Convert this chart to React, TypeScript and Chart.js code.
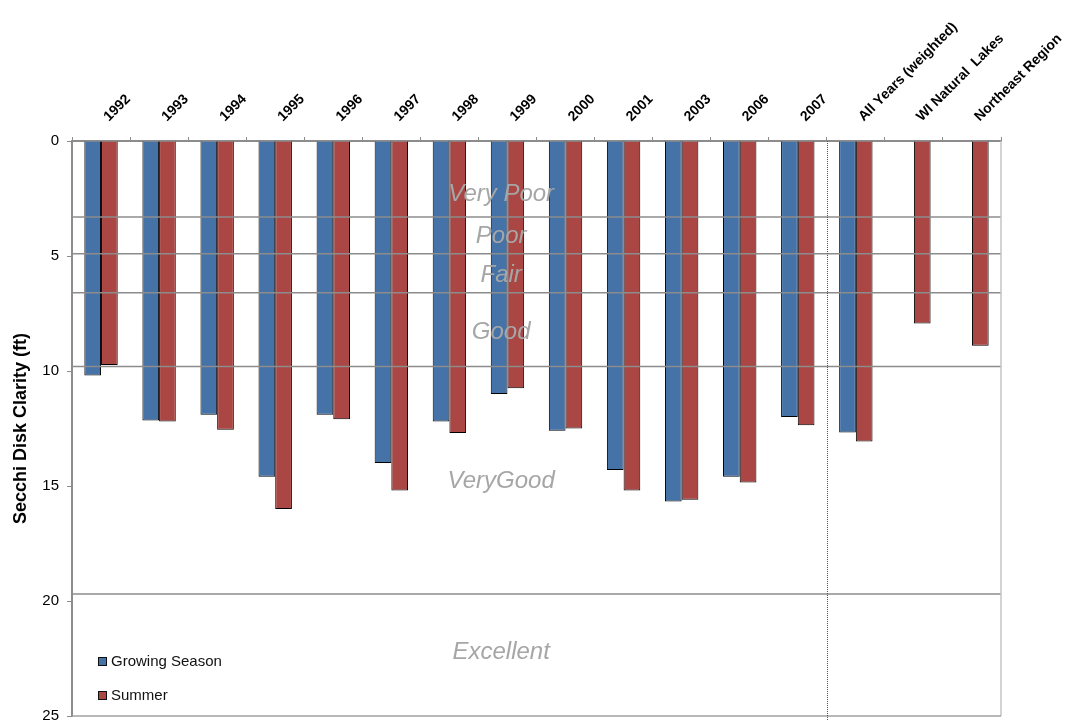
import React, { useEffect, useRef } from "react";
import { Chart, registerables } from "chart.js";

Chart.register(...registerables);

const categories = [
  "1992", "1993", "1994", "1995", "1996", "1997", "1998", "1999", "2000",
  "2001", "2003", "2006", "2007", "All Years (weighted)", "WI Natural  Lakes", "Northeast Region",
];
const growingSeason = [10.2, 12.15, 11.9, 14.6, 11.9, 14.0, 12.2, 11.0, 12.6, 14.3, 15.67, 14.6, 12.0, 12.67, null, null];
const summer = [9.74, 12.2, 12.55, 16.0, 12.1, 15.2, 12.7, 10.75, 12.5, 15.2, 15.6, 14.85, 12.36, 13.07, 7.93, 8.9];

const yTicks = [0, 5, 10, 15, 20, 25];
const thresholds = [3.3, 4.9, 6.6, 9.8, 19.7];
const zoneLabels = ["Very Poor", "Poor", "Fair", "Good", "VeryGood", "Excellent"];
const zoneLabelValues = [2.3, 4.15, 5.85, 8.3, 14.8, 22.25];
const legendLabels = ["Growing Season", "Summer"];
const colors = ["#4572A7", "#AA4643"];

const FONT = "'Liberation Sans', Arial, sans-serif";

const overlayPlugin = {
  id: "overlay",
  afterDatasetsDraw(chart: any) {
    const { ctx, chartArea } = chart;
    const y = chart.scales.y;
    const x = chart.scales.x;
    ctx.save();
    // threshold lines
    ctx.strokeStyle = "#8c8c8c";
    ctx.lineWidth = 1.5;
    thresholds.forEach((t) => {
      const py = y.getPixelForValue(t);
      ctx.beginPath();
      ctx.moveTo(chartArea.left, py);
      ctx.lineTo(chartArea.right, py);
      ctx.stroke();
    });
    // right and bottom borders
    ctx.strokeStyle = "#c4c4c4";
    ctx.lineWidth = 1.5;
    ctx.beginPath();
    ctx.moveTo(chartArea.right, chartArea.top);
    ctx.lineTo(chartArea.right, chartArea.bottom);
    ctx.stroke();
    ctx.strokeStyle = "#a0a0a0";
    ctx.beginPath();
    ctx.moveTo(chartArea.left, chartArea.bottom);
    ctx.lineTo(chartArea.right, chartArea.bottom);
    ctx.stroke();
    // dotted separator
    const sx = Math.round((x.getPixelForValue(12) + x.getPixelForValue(13)) / 2) + 0.5;
    ctx.strokeStyle = "#555";
    ctx.lineWidth = 1;
    ctx.setLineDash([1, 1]);
    ctx.beginPath();
    ctx.moveTo(sx, chartArea.top);
    ctx.lineTo(sx, chart.height);
    ctx.stroke();
    ctx.setLineDash([]);
    // zone labels
    ctx.fillStyle = "#a6a6a6";
    ctx.font = `italic 24px ${FONT}`;
    ctx.textAlign = "center";
    ctx.textBaseline = "middle";
    const cx = chartArea.left + 0.462 * (chartArea.right - chartArea.left);
    zoneLabels.forEach((l, i) => {
      ctx.fillText(l, cx, y.getPixelForValue(zoneLabelValues[i]));
    });
    // legend
    ctx.font = `15px ${FONT}`;
    ctx.textAlign = "left";
    legendLabels.forEach((l, i) => {
      const ly = chartArea.bottom - 55 + i * 34;
      const lx = chartArea.left + 26;
      ctx.fillStyle = colors[i];
      ctx.fillRect(lx, ly - 4, 8, 8);
      ctx.strokeStyle = "#111";
      ctx.lineWidth = 1;
      ctx.strokeRect(lx + 0.5, ly - 4 + 0.5, 8, 8);
      ctx.fillStyle = "#111";
      ctx.fillText(l, lx + 13, ly + 1);
    });
    ctx.restore();
  },
};

export default function App() {
  const ref = useRef<HTMLCanvasElement>(null);
  useEffect(() => {
    if (!ref.current) return;
    Chart.defaults.font.family = FONT;
    const chart = new Chart(ref.current, {
      type: "bar",
      data: {
        labels: categories,
        datasets: [
          {
            label: legendLabels[0],
            data: growingSeason,
            backgroundColor: colors[0],
            borderColor: "#000",
            borderWidth: 1,
            categoryPercentage: 0.575,
            barPercentage: 1,
          },
          {
            label: legendLabels[1],
            data: summer,
            backgroundColor: colors[1],
            borderColor: "#000",
            borderWidth: 1,
            categoryPercentage: 0.575,
            barPercentage: 1,
          },
        ],
      },
      options: {
        responsive: false,
        animation: false,
        layout: { padding: { top: 0, left: 0, right: 69, bottom: 5 } },
        plugins: { legend: { display: false }, tooltip: { enabled: false } },
        scales: {
          x: {
            position: "top",
            grid: { drawOnChartArea: false, tickLength: 4, color: "#8c8c8c", offset: true },
            border: { color: "#8c8c8c", width: 2 },
            ticks: {
              autoSkip: false,
              minRotation: 45,
              maxRotation: 45,
              padding: 12,
              labelOffset: 17,
              color: "#000",
              font: { size: 14, weight: "bold", family: FONT },
            },
            afterFit: (s: any) => {
              s.height = 141;
              s.paddingLeft = 0;
              s.paddingRight = 0;
            },
          },
          y: {
            reverse: true,
            min: 0,
            max: 25,
            afterBuildTicks: (s: any) => {
              s.ticks = yTicks.map((v) => ({ value: v }));
            },
            grid: { drawOnChartArea: false, tickLength: 5, color: "#8c8c8c" },
            border: { color: "#8c8c8c", width: 2 },
            ticks: { padding: 8, color: "#000", font: { size: 15, family: FONT } },
            title: {
              display: true,
              text: "Secchi Disk Clarity (ft)",
              color: "#000",
              font: { size: 18, weight: "bold", family: FONT },
              padding: { top: 10, bottom: 0 },
            },
            afterFit: (s: any) => {
              s.width = 72;
              s.paddingTop = 0;
              s.paddingBottom = 0;
            },
          },
        },
      },
      plugins: [overlayPlugin],
    });
    return () => chart.destroy();
  }, []);
  return (
    <div style={{ position: "absolute", left: 0, top: 0, width: 1070, height: 721 }}>
      <canvas ref={ref} width={1070} height={721} style={{ display: "block" }} />
    </div>
  );
}
